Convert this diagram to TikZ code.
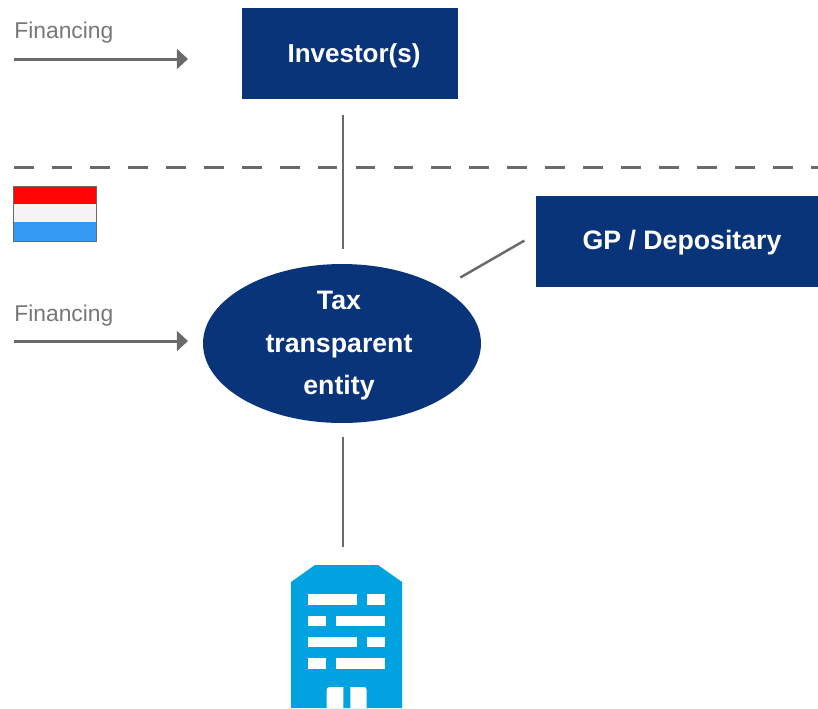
\documentclass[tikz,border=0pt]{standalone}
\usepackage{fontspec}
\setmainfont{Liberation Sans}
\usetikzlibrary{shapes.geometric,arrows.meta}
\definecolor{navy}{HTML}{09347A}
\definecolor{sky}{HTML}{00A3E0}
\definecolor{rule}{HTML}{6A6A6C}
\definecolor{caption}{HTML}{77777A}
\definecolor{flagred}{HTML}{FF0606}
\definecolor{flagwhite}{HTML}{F4F4F7}
\definecolor{flagblue}{HTML}{3399F3}
\newcommand{\nudged}[3]{\hspace*{#1}\raisebox{#2}[\height][\depth]{#3}}
\tikzset{
  box/.style={fill=navy, text=white, font=\fontsize{15.2}{24.3}\selectfont\bfseries, minimum height=1.82cm, inner sep=0},
  link/.style={draw=rule, line width=1.7pt},
  flow/.style={link, -{Triangle[length=6.4pt,width=11.4pt]}},
  label/.style={text=caption, font=\fontsize{13}{15}\selectfont, anchor=west, inner sep=0},
  pane/.style={fill=white}
}
\begin{document}
\begin{tikzpicture}[x=0.02cm, y=-0.02cm]
  \useasboundingbox (0, 0) rectangle (818, 708);
  \node[box, font=\fontsize{14.8}{24.3}\selectfont\bfseries, minimum width=4.32cm] (investors) at (350, 53.5) {\nudged{0.16cm}{-1.1pt}{Investor(s)}};
  \node[box, minimum width=5.64cm] (gp) at (677, 241.5) {\nudged{0.2cm}{-0.6pt}{GP / Depositary}};
  \node[box, ellipse, align=center, minimum width=5.56cm, minimum height=3.18cm] (tax) at (342, 343.5) {\nudged{-0.12cm}{-1.3pt}{Tax}\\\nudged{-0.12cm}{-1.3pt}{transparent}\\\nudged{-0.12cm}{-1.3pt}{entity}};
  \node[label] (financinga) at (14, 33) {Financing};
  \node[label] (financingb) at (14, 315.5) {Financing};

  \coordinate (starta) at (14, 59);
  \coordinate (enda) at (188, 59);
  \coordinate (startb) at (14, 341);
  \coordinate (endb) at (188, 341);
  \coordinate (borderl) at (14, 167);
  \coordinate (borderr) at (818, 167);
  \coordinate (building) at (343, 565);
  \draw[flow] (starta) -- (enda);
  \draw[flow] (startb) -- (endb);
  \draw[link, dash pattern=on 11.3pt off 10.3pt] (borderl) -- (borderr);
  \draw[link, shorten <=0.3cm, shorten >=0.32cm] (tax.north -| building) -- (investors.south -| building);
  \draw[link, shorten <=0.28cm, shorten >=0.36cm] (tax.south -| building) -- (building);
  \draw[link, line width=1.4pt, shorten <=0.42cm, shorten >=0.26cm] (tax.29) -- (gp.177);

  \fill[flagred] (13, 186) rectangle (96.5, 203.5);
  \fill[flagwhite] (13, 203.5) rectangle (96.5, 222);
  \fill[flagblue] (13, 222) rectangle (96.5, 241);
  \draw[rule, line width=0.5pt] (13, 186) rectangle (96.5, 241);

  \fill[sky] (291, 708) -- (291, 582) -- (315, 565) -- (378, 565) -- (402, 582) -- (402, 708) -- cycle;
  \foreach \row/\ya/\yb in {0/594.3/605, 2/637/647.3} {
    \fill[pane] (308, \ya) rectangle (357, \yb);
    \fill[pane] (367.3, \ya) rectangle (385, \yb);
  }
  \foreach \row/\ya/\yb in {1/615.7/626, 3/658.3/668.7} {
    \fill[pane] (308, \ya) rectangle (325.7, \yb);
    \fill[pane] (336, \ya) rectangle (385, \yb);
  }
  \fill[pane] (326.7, 708) -- (326.7, 690) .. controls (326.7, 688) and (328, 687) .. (330, 687) -- (343.3, 687) -- (343.3, 708) -- cycle;
  \fill[pane] (350.3, 708) -- (350.3, 687) -- (363.4, 687) .. controls (365.4, 687) and (366.7, 688) .. (366.7, 690) -- (366.7, 708) -- cycle;
\end{tikzpicture}
\end{document}
